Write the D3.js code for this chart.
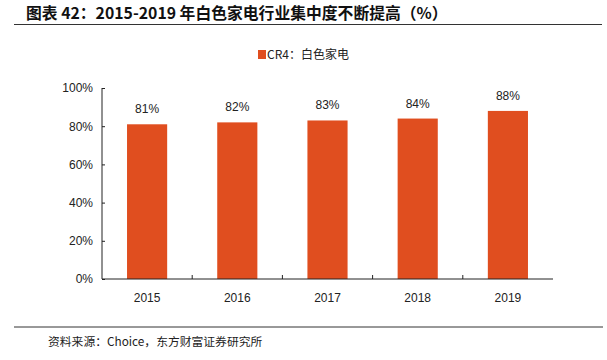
<!DOCTYPE html>
<html><head><meta charset="utf-8">
<script src="https://cdn.jsdelivr.net/npm/d3@7"></script>
<style>body{margin:0;background:#fff}svg{display:block}</style>
</head><body>
<script>
const categories = ["2015","2016","2017","2018","2019"];
const values = [0.81,0.82,0.83,0.84,0.88];
const valueLabels = ["81%","82%","83%","84%","88%"];
const yTicks = [0,0.2,0.4,0.6,0.8,1.0];
const seriesName = "CR4：白色家电";

(function(){
const W=607,H=360;
const svg=d3.select("body").append("svg").attr("width",W).attr("height",H);
const cjk="'Noto Sans CJK SC','Noto Sans CJK JP',sans-serif";
const lat="'Liberation Sans',Arial,sans-serif";
const color="#E04E1F";

svg.append("text").attr("x",26).attr("y",18.5).attr("font-family",cjk).attr("font-weight","bold")
  .attr("font-size",15.8).attr("fill","#111").text("图表 42：2015-2019 年白色家电行业集中度不断提高（%）");
svg.append("line").attr("x1",14).attr("x2",602).attr("y1",24.5).attr("y2",24.5).attr("stroke","#333").attr("stroke-width",1.2);

const pL=102,pR=553,pT=88,pB=279;
const x=d3.scaleBand().domain(categories).range([pL,pR]).paddingInner(0.555).paddingOuter(0.2775);
const y=d3.scaleLinear().domain([0,1]).range([pB,pT]);

svg.selectAll("rect.bar").data(values).join("rect").attr("class","bar")
  .attr("x",(d,i)=>x(categories[i])).attr("width",x.bandwidth())
  .attr("y",d=>y(d)).attr("height",d=>pB-y(d)).attr("fill",color);

svg.selectAll("text.val").data(values).join("text").attr("class","val")
  .attr("x",(d,i)=>x(categories[i])+x.bandwidth()/2).attr("y",d=>y(d)-11)
  .attr("text-anchor","middle").attr("font-family",lat).attr("font-size",12).attr("fill","#222")
  .text((d,i)=>valueLabels[i]);

const yAxis=svg.append("g").attr("transform",`translate(${pL},0)`)
  .call(d3.axisLeft(y).tickValues(yTicks).tickFormat(d3.format(".0%")).tickSize(-3).tickPadding(9));
yAxis.select(".domain").attr("stroke","#222").attr("d",`M0,${pT}V${pB}`);
yAxis.selectAll(".tick line").attr("stroke","#222");
yAxis.selectAll("text").attr("font-family",lat).attr("font-size",12).attr("fill","#222");

const bx=d3.scalePoint().domain(d3.range(categories.length+1)).range([pL,pR]);
const xAxis=svg.append("g").attr("transform",`translate(0,${pB})`);
xAxis.append("line").attr("x1",pL).attr("x2",pR).attr("stroke","#222");
xAxis.selectAll("line.t").data(d3.range(1,categories.length)).join("line").attr("class","t")
  .attr("x1",d=>bx(d)).attr("x2",d=>bx(d)).attr("y1",0).attr("y2",-4).attr("stroke","#222");
xAxis.selectAll("text").data(categories).join("text")
  .attr("x",d=>x(d)+x.bandwidth()/2).attr("y",23).attr("text-anchor","middle")
  .attr("font-family",lat).attr("font-size",12).attr("fill","#222").text(d=>d);

const lg=svg.append("g").attr("transform","translate(258,50)");
lg.append("rect").attr("width",8).attr("height",9).attr("fill",color);
lg.append("text").attr("x",9).attr("y",9).attr("font-family",cjk).attr("font-size",12).attr("fill","#222").text(seriesName);

svg.append("line").attr("x1",14).attr("x2",603).attr("y1",327).attr("y2",327).attr("stroke","#333").attr("stroke-width",1);
svg.append("text").attr("x",48).attr("y",346).attr("font-family",cjk).attr("font-size",11.8).attr("fill","#222")
  .text("资料来源：Choice，东方财富证券研究所");
})();
</script>
</body></html>
